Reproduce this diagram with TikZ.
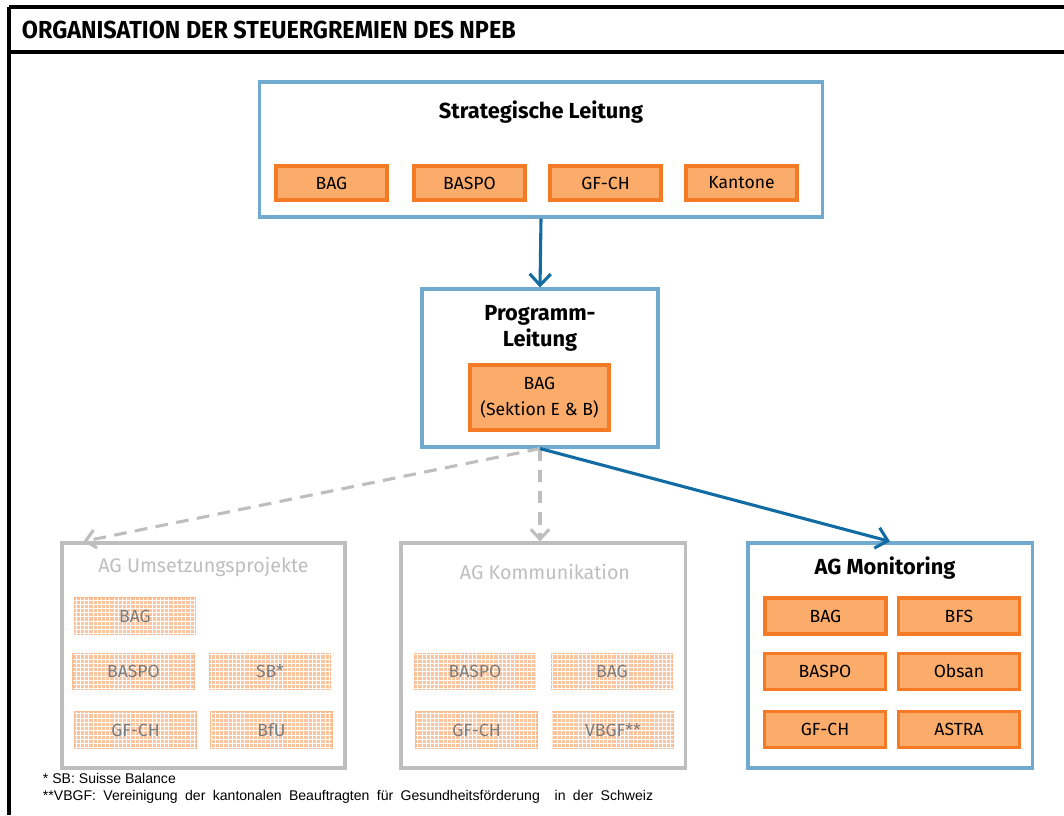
\documentclass[tikz,border=0pt]{standalone}
\usepackage{fontspec}
\setmainfont{Fira Sans}
\newfontfamily\titelfont{Fira Sans}[FakeStretch=0.95]
\newfontfamily\notefont{Liberation Sans}
\usetikzlibrary{arrows.meta}
\usetikzlibrary{patterns}
\usetikzlibrary{calc}
\usepackage{xcolor}

\definecolor{rahmenblau}{RGB}{112,170,206}
\definecolor{pfeilblau}{RGB}{18,108,164}
\definecolor{orangefill}{RGB}{251,171,106}
\definecolor{orangerand}{RGB}{245,122,38}
\definecolor{blassfill}{RGB}{252,196,156}
\definecolor{blassrand}{RGB}{252,186,140}
\definecolor{blasstext}{RGB}{125,125,125}
\definecolor{graulinie}{RGB}{190,190,190}

\begin{document}
\begin{tikzpicture}[x=0.025cm,y=-0.025cm,
  gremium/.style={draw=rahmenblau,line width=2.2pt},
  graugremium/.style={draw=graulinie,line width=2.2pt},
  mitglied/.style={draw=orangerand,fill=orangefill,line width=2.2pt,
    minimum width=3.025cm,minimum height=0.9cm,inner sep=0pt,
    font=\fontsize{12.5}{16}\selectfont},
  blass/.style={draw=blassrand,fill=blassfill,line width=1pt,
    postaction={pattern=grid,pattern color=white},
    minimum width=3.025cm,minimum height=0.9cm,inner sep=0pt,
    text=blasstext,font=\fontsize{12.5}{14}\selectfont},
  kopf/.style={font=\fontsize{15.5}{18.5}\selectfont\bfseries},
  graukopf/.style={font=\fontsize{14}{17}\selectfont,text=graulinie},
  fluss/.style={pfeilblau,line width=2.2pt,-{Straight Barb[length=8pt,width=15pt]}},
  grauerfluss/.style={graulinie,line width=2.2pt,dash pattern=on 9pt off 6pt,
    -{Straight Barb[length=7pt,width=13pt]}}]
\useasboundingbox (0,0) rectangle (1064,815);

% Rahmen
\draw[line width=2.4pt] (9,7) -- (1064,7) (9,52) -- (1064,52) (9,7) -- (9,815);
\node[anchor=west,font=\titelfont\fontsize{17.5}{20}\selectfont\bfseries] (titel) at (17,30)
  {ORGANISATION DER STEUERGREMIEN DES NPEB};

% Strategische Leitung
\node[gremium,minimum width=14.05cm,minimum height=3.375cm] (strat) at (541,149.5) {};
\node[kopf] (strattitel) at (541,112) {Strategische Leitung};
\node[mitglied,minimum width=2.775cm,minimum height=0.85cm] (s1) at (331.5,183) {BAG};
\node[mitglied,minimum width=2.775cm,minimum height=0.85cm] (s2) at (469.5,183) {BASPO};
\node[mitglied,minimum width=2.775cm,minimum height=0.85cm] (s3) at (605.5,183) {GF-CH};
\node[mitglied,minimum width=2.775cm,minimum height=0.85cm] (s4) at (741.5,183) {Kantone};

% Programmleitung
\node[gremium,minimum width=5.9cm,minimum height=3.95cm] (prog) at (540,368) {};
\node[kopf,align=center] (progtitel) at (540,328) {Programm-\\Leitung};
\node[mitglied,minimum width=3.475cm,minimum height=1.625cm,align=center,
  font=\fontsize{12.5}{18}\selectfont] (p1) at (539.5,397.5) {BAG\\(Sektion E \& B)};

% Arbeitsgruppen
\node[graugremium,minimum width=7.075cm,minimum height=5.625cm] (umsetz) at (203.5,655.5) {};
\node[graukopf] (umsetztitel) at (203.5,567) {AG Umsetzungsprojekte};
\node[blass] (u1) at (135,616) {BAG};
\node[blass] (u2) at (133.5,671.5) {BASPO};
\node[blass] (u3) at (270,671.5) {SB*};
\node[blass] (u4) at (135.5,730) {GF-CH};
\node[blass] (u5) at (271.5,730) {BfU};

\node[graugremium,minimum width=7.1cm,minimum height=5.625cm] (kommu) at (543,655.5) {};
\node[graukopf] (kommutitel) at (545,572) {AG Kommunikation};
\node[blass] (k1) at (475,671.5) {BASPO};
\node[blass] (k2) at (612,671.5) {BAG};
\node[blass] (k3) at (476.5,730) {GF-CH};
\node[blass] (k4) at (613,730) {VBGF**};

\node[gremium,minimum width=7.1cm,minimum height=5.625cm] (monitor) at (890,655.5) {};
\node[kopf] (monitortitel) at (885,568) {AG Monitoring};
\node[mitglied] (m1) at (825.5,616) {BAG};
\node[mitglied] (m2) at (959,616) {BFS};
\node[mitglied] (m3) at (825,671.5) {BASPO};
\node[mitglied] (m4) at (959,671.5) {Obsan};
\node[mitglied] (m5) at (825,729.5) {GF-CH};
\node[mitglied] (m6) at (959,729.5) {ASTRA};

% Pfeile
\draw[fluss] (strat.south) -- (prog.north);
\draw[grauerfluss] (prog.south) -- ($(umsetz.north west)+(23,0)$);
\draw[grauerfluss] (prog.south) -- (prog.south |- kommu.north);
\draw[fluss] (prog.south) -- (monitor.north);

% Fussnoten
\node[anchor=west,font=\notefont\fontsize{10}{11}\selectfont] (fn1) at (38,778)
  {* SB: Suisse Balance};
\node[anchor=west,font=\notefont\fontsize{10}{11}\selectfont] (fn2) at (38,797)
  {\makebox[15.25cm][s]{**VBGF: Vereinigung der kantonalen Beauftragten für Gesundheitsförderung \ in der Schweiz}};
\end{tikzpicture}
\end{document}
